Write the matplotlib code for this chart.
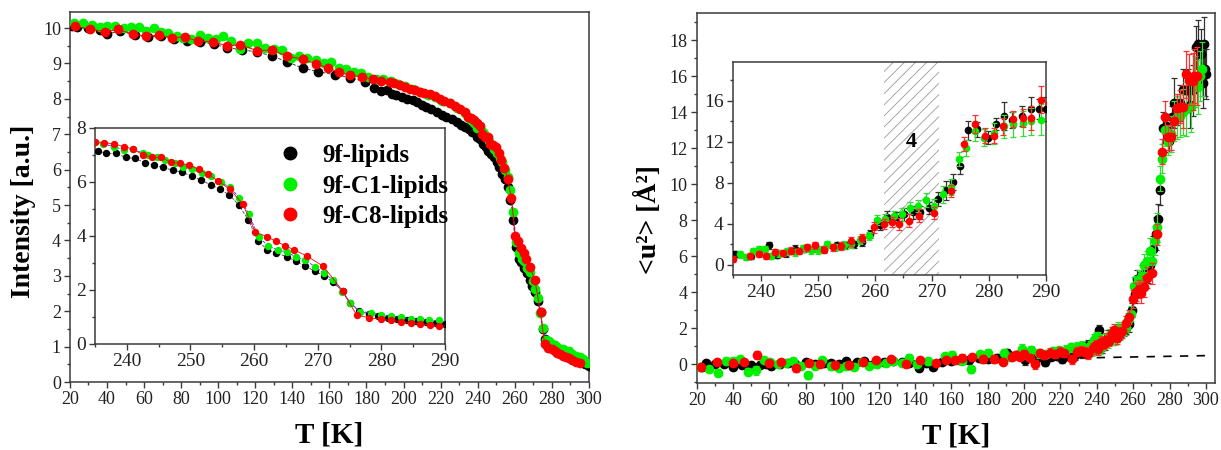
"""
Elastic intensity and mean square displacement <u^2> vs temperature
for 9f-lipids, 9f-C1-lipids and 9f-C8-lipids (two panels with insets).
"""

import matplotlib
matplotlib.use("Agg")
import matplotlib.pyplot as plt
from matplotlib.lines import Line2D
from matplotlib.ticker import MultipleLocator

plt.rcParams["font.family"] = ["Liberation Serif", "DejaVu Serif"]
plt.rcParams["hatch.linewidth"] = 0.6
plt.rcParams["hatch.color"] = "#9a9a9a"

# ── Colours ──────────────────────────────────────────────────────────────────
C_BLK = "#000000"
C_GRN = "#00f000"
C_RED = "#ff0000"
C_AX = "#3a3a3a"

# ── Left panel: elastic intensity [a.u.] ──────────────────────────────────────
I_BLK_T = [21, 24, 30, 36, 40, 47, 55, 62, 69, 76, 83, 90, 97.5, 105, 113, 121,
           129, 137, 146, 154, 163, 171, 179, 184, 188, 191, 194, 196, 199, 202,
           205, 207, 210, 212, 215, 218, 221, 223, 226, 229, 231, 233,
           235.4, 236.8, 238.3, 239.8, 241.3, 242.8, 244.3, 245.7, 247.2, 248.7,
           250.2, 251.7, 253.2, 254.6, 256.1, 257.6, 259.1, 260.6, 262.1, 263.5,
           265.1, 266.6, 268, 269.5, 271, 272.4, 273.9, 275.1, 276.5, 278, 279.5,
           281, 282.5, 284, 285.5, 287, 288.5, 290, 292, 294, 296, 298, 300]
I_BLK = [10.05, 10.02, 10.0, 9.95, 9.83, 9.92, 9.80, 9.74, 9.78, 9.70, 9.64, 9.62,
         9.54, 9.45, 9.38, 9.33, 9.21, 9.05, 8.86, 8.77, 8.68, 8.60, 8.49, 8.32,
         8.21, 8.24, 8.15, 8.10, 8.05, 8.01, 7.96, 7.91, 7.84, 7.78, 7.70, 7.63,
         7.55, 7.49, 7.42, 7.35, 7.27, 7.20,
         7.15, 7.06, 7.06, 6.91, 6.87, 6.72, 6.63, 6.54, 6.44, 6.36,
         6.22, 6.07, 5.89, 5.74, 5.52, 5.15, 4.59, 3.82, 3.48, 3.38,
         3.23, 3.07, 2.89, 2.70, 2.53, 2.28, 1.97, 1.50, 1.23, 1.10, 1.02,
         0.98, 0.94, 0.90, 0.86, 0.82, 0.78, 0.74, 0.68, 0.62, 0.57, 0.52, 0.45]

I_GRN_T = [22, 27, 32, 36, 40, 44.5, 49, 53, 57, 61, 65.3, 69, 73, 77.5, 81, 85.4,
           90, 94.5, 99, 102.5, 107, 112, 116, 121, 125.5, 130, 134.5, 139, 143.5,
           148, 152.6, 157, 161, 165, 169, 173, 177, 181, 185, 189, 193, 197, 201,
           205, 209, 213, 217, 221, 225, 229, 233,
           235, 236.3, 238, 239.5, 241, 242.6, 243.4, 244.7, 246, 247.6, 248.9,
           250.3, 251.8, 253.2, 254.8, 256.2, 257.7, 259.2, 260.7, 262.2, 263.7,
           265.1, 266.6, 268, 269.6, 271, 272.4, 273.8, 275.1, 276.6, 278.3, 279.9,
           281.5, 283, 284.6, 286, 287.4, 289, 291, 293, 295, 297, 299]
I_GRN = [10.15, 10.15, 10.08, 10.04, 10.05, 10.05, 10.0, 10.04, 10.02, 9.93, 10.01,
         9.90, 9.87, 9.77, 9.72, 9.68, 9.80, 9.73, 9.70, 9.77, 9.63, 9.40, 9.58,
         9.58, 9.45, 9.42, 9.38, 9.15, 9.20, 9.15, 9.10, 9.00, 9.05, 8.88, 8.85,
         8.75, 8.72, 8.62, 8.57, 8.55, 8.50, 8.42, 8.36, 8.27, 8.20, 8.12, 8.05,
         7.95, 7.87, 7.75, 7.60,
         7.49, 7.40, 7.31, 7.19, 7.22, 7.06, 7.00, 6.91, 6.81, 6.69, 6.57,
         6.48, 6.32, 6.22, 5.99, 5.80, 5.42, 4.81, 3.95, 3.64, 3.48,
         3.42, 3.21, 3.11, 2.86, 2.62, 2.37, 1.94, 1.53, 1.20, 1.16, 1.07,
         1.04, 0.99, 0.92, 0.92, 0.87, 0.87, 0.80, 0.74, 0.70, 0.64, 0.55]

I_RED_T = [22.5, 30.6, 38.7, 46, 54, 60.8, 68, 75, 82, 89, 97, 104.5, 112, 121, 129,
           137, 146, 153, 159, 165, 171, 177.7, 183.6, 188, 192.5, 195, 198, 201,
           203.4, 206, 208.8, 211, 214, 217, 219.6, 222, 225, 228, 230.4, 233,
           235, 236.4, 238, 239.5, 241, 242.5, 244, 245.4, 246.9, 248.4, 249.8,
           251.3, 252.8, 254.3, 256.2, 258.2, 260.2, 262, 263.4, 264.9, 266.3,
           268.3, 270.9, 273.9, 276.1, 278.1, 279.9, 281.5, 283, 284.6, 286.1,
           287.7, 289.1, 291, 293, 295]
I_RED = [10.06, 9.97, 9.90, 9.96, 9.83, 9.77, 9.80, 9.73, 9.75, 9.63, 9.62, 9.50,
         9.53, 9.36, 9.38, 9.21, 9.12, 8.98, 8.88, 8.75, 8.67, 8.62, 8.55, 8.51,
         8.49, 8.45, 8.39, 8.33, 8.29, 8.24, 8.19, 8.17, 8.15, 8.08, 8.01, 7.95,
         7.89, 7.80, 7.72, 7.62,
         7.49, 7.46, 7.41, 7.31, 7.22, 7.01, 6.91, 6.91, 6.73, 6.69, 6.63,
         6.47, 6.28, 6.04, 5.73, 5.19, 4.14, 3.98, 3.80, 3.64, 3.48,
         3.26, 2.87, 1.97, 1.07, 0.97, 0.92, 0.87, 0.83, 0.79, 0.74,
         0.71, 0.68, 0.63, 0.58, 0.55]

# ── Right panel: <u^2> [A^2] with errors ─────────────────────────────────────
U_BLK_T = [22.7, 25, 30, 35, 40, 45, 50, 54.8, 58, 61, 66, 70, 74, 80, 85, 90, 94,
           98, 102, 108, 112, 118, 123, 128, 133, 137, 142, 146, 150, 155, 160,
           165, 170, 175, 180, 185, 190.5, 193, 196, 200.6, 203, 206, 208, 211.6,
           215, 218, 220.8, 224, 228, 232,
           235.4, 238.3, 241.4, 242.8, 244.3, 245.9, 247.5, 249.4, 251, 253.3,
           254.8, 256.3, 257.8, 259.1, 260.9, 262.2, 263.7, 265.1, 266.6, 268,
           269.5, 271, 272.4, 273.8, 275, 276.3, 277.9, 279.8, 281.2, 282.7,
           284.1, 285.8, 287.4, 288.8, 290, 291, 293, 294.8, 295.8, 297.5,
           298.5, 299, 299.5, 300]
U_BLK = [-0.15, 0.05, 0.0, 0.0, -0.18, -0.05, -0.05, -0.06, 0.0, -0.1, 0.0, 0.05,
         0.0, 0.1, 0.0, 0.05, 0.05, 0.0, 0.15, 0.1, 0.15, 0.05, 0.1, 0.15, 0.1,
         0.05, -0.2, 0.05, -0.15, 0.1, 0.15, 0.2, 0.2, 0.35, 0.3, 0.35, 0.59, 0.45,
         0.5, 0.22, 0.5, 0.45, 0.4, 0.13, 0.4, 0.45, 0.31, 0.45, 0.5, 0.6,
         1.04, 0.88, 1.88, 0.94, 1.1, 1.53, 1.5, 1.63, 1.5, 1.88,
         1.9, 2.0, 2.2, 3.0, 3.9, 4.7, 4.6, 4.9, 5.1, 5.1,
         5.5, 6.4, 7.25, 8.07, 9.66, 13.1, 13.2, 12.4, 13.75, 14.5,
         14.1, 14.5, 15.2, 15.2, 15.2, 14.4, 15.2, 17.6, 17.8, 17.2,
         15.6, 17.8, 16.4, 16.1]
U_BLK_E = [0.15, 0.12, 0.12, 0.12, 0.15, 0.12, 0.12, 0.15, 0.12, 0.15, 0.12, 0.12,
           0.15, 0.12, 0.12, 0.15, 0.12, 0.12, 0.15, 0.12, 0.15, 0.12, 0.12, 0.15,
           0.12, 0.15, 0.2, 0.15, 0.2, 0.15, 0.15, 0.2, 0.2, 0.2, 0.2, 0.2, 0.25,
           0.2, 0.2, 0.25, 0.2, 0.2, 0.2, 0.25, 0.2, 0.2, 0.25, 0.2, 0.25, 0.25,
           0.3, 0.3, 0.3, 0.3, 0.3, 0.35, 0.3, 0.35, 0.3, 0.35,
           0.35, 0.35, 0.4, 0.4, 0.5, 0.5, 0.5, 0.6, 0.6, 0.6,
           0.6, 0.7, 0.9, 0.8, 0.8, 0.9, 0.7, 0.6, 0.6, 1.4,
           0.8, 1.0, 1.2, 1.0, 1.2, 1.3, 1.4, 1.2, 1.3, 1.4,
           1.4, 1.5, 1.5, 1.4]

U_GRN_T = [22, 27, 31.5, 36, 40, 44, 48, 52.5, 57, 60.5, 64.7, 69, 73, 77.5, 81, 85,
           89, 93.7, 98, 102, 106.5, 111, 115, 119, 124, 128, 133, 137, 141, 147,
           156.5, 160.3, 166, 170.6, 175.7, 180, 188.7, 192, 199, 203.6, 208, 212,
           216, 219, 223, 226, 229, 232,
           236.2, 237.4, 238.5, 239.6, 240.6, 241.8, 243.2, 244.5, 246, 247.4,
           248.7, 250, 251.6, 253, 254.5, 255.8, 257.4, 258.9, 260.3, 261.8,
           263.4, 264.7, 266.1, 267.5, 269, 270.4, 271.9, 273.3, 274.7, 276,
           277.5, 279.2, 281, 282.7, 284.3, 286, 287.5, 289.2, 292, 294,
           295.5, 297, 298]
U_GRN = [-0.15, -0.28, -0.48, 0.18, 0.18, 0.27, -0.42, -0.35, 0.2, 0.12, 0.0, 0.04,
         0.18, -0.1, -0.63, -0.1, 0.22, -0.12, -0.2, -0.1, -0.17, 0.12, -0.1, 0.0,
         0.08, 0.16, 0.04, 0.33, 0.03, 0.16, 0.43, 0.5, 0.17, -0.3, 0.54, 0.63,
         0.63, 0.4, 0.85, 0.78, 0.6, 0.57, 0.7, 0.76, 0.8, 0.93, 0.97, 1.0,
         1.0, 0.75, 1.35, 1.5, 1.5, 0.85, 1.1, 1.33, 1.2, 1.6,
         1.43, 1.43, 2.0, 1.7, 1.95, 2.0, 2.45, 2.8, 4.36, 4.42,
         4.75, 4.9, 5.5, 5.7, 6.3, 5.7, 6.85, 7.6, 10.3, 11.4,
         13.0, 12.4, 12.8, 13.5, 13.7, 13.8, 14.0, 14.15, 14.3, 15.7,
         15.4, 16.0, 16.4]
U_GRN_E = [0.15, 0.15, 0.2, 0.15, 0.15, 0.15, 0.2, 0.25, 0.15, 0.15, 0.15, 0.15,
           0.15, 0.15, 0.2, 0.15, 0.15, 0.2, 0.15, 0.15, 0.15, 0.15, 0.15, 0.15,
           0.15, 0.15, 0.15, 0.25, 0.15, 0.2, 0.2, 0.2, 0.15, 0.2, 0.2, 0.2,
           0.2, 0.2, 0.25, 0.2, 0.25, 0.2, 0.25, 0.2, 0.25, 0.25, 0.25, 0.3,
           0.3, 0.3, 0.3, 0.3, 0.3, 0.3, 0.3, 0.35, 0.3, 0.35,
           0.35, 0.35, 0.35, 0.35, 0.4, 0.4, 0.4, 0.4, 0.5, 0.5,
           0.5, 0.6, 0.6, 0.6, 0.7, 0.7, 0.8, 0.8, 0.7, 0.8,
           0.9, 0.8, 1.0, 1.1, 1.2, 1.2, 1.3, 1.5, 1.4, 1.4,
           1.5, 1.4, 1.5]

U_RED_T = [22.2, 31, 40, 46, 53, 60, 66.6, 74.4, 81.5, 88, 96, 104, 111.6, 118.6,
           126.6, 135, 143, 151.4, 157, 162, 166, 171.2, 177.3, 183.7, 188.3,
           193.2, 195.5, 197.8, 200, 203, 206, 208.8, 211, 214.3, 217, 219.8, 222,
           226.2, 229, 231.5, 233.5,
           235.1, 238, 239.6, 240.8, 242.5, 243.8, 245.2, 246.6, 248.1, 249.5,
           251, 252.6, 254, 255.8, 257.8, 259.8, 261.5, 263, 264.3, 265.9,
           267.7, 270.4, 273.3, 275.6, 277.5, 279.4, 280.9, 282.5, 284.3, 286,
           287.5, 289.1, 290.5, 292.7, 293.6, 295]
U_RED = [-0.15, 0.13, 0.05, 0.13, 0.5, 0.05, 0.13, -0.24, 0.07, 0.0, -0.05, -0.05,
         0.1, 0.2, 0.27, 0.0, 0.22, 0.04, 0.2, 0.22, 0.35, 0.37, 0.28, 0.28, 0.13,
         0.41, 0.5, 0.4, 0.55, 0.35, 0.0, 0.6, 0.5, 0.63, 0.55, 0.69, 0.6, 0.26,
         0.69, 0.75, 0.69,
         0.58, 0.88, 1.05, 0.82, 1.24, 1.14, 1.36, 1.3, 1.69, 1.88,
         1.46, 1.72, 1.85, 2.27, 2.6, 3.64, 4.0, 4.16, 3.97, 4.3,
         4.8, 5.04, 7.2, 11.8, 13.7, 12.6, 12.6, 13.5, 14.2, 14.3,
         14.3, 16.1, 15.8, 15.7, 16.0, 16.0]
U_RED_E = [0.15, 0.15, 0.15, 0.15, 0.2, 0.15, 0.15, 0.2, 0.15, 0.15, 0.15, 0.15,
           0.15, 0.15, 0.15, 0.15, 0.2, 0.15, 0.15, 0.2, 0.2, 0.2, 0.2, 0.2, 0.2,
           0.2, 0.2, 0.2, 0.25, 0.2, 0.25, 0.2, 0.2, 0.25, 0.2, 0.25, 0.2, 0.25,
           0.25, 0.25, 0.25,
           0.3, 0.3, 0.3, 0.3, 0.3, 0.3, 0.35, 0.3, 0.35, 0.35,
           0.35, 0.35, 0.4, 0.4, 0.4, 0.5, 0.5, 0.5, 0.6, 0.6,
           0.6, 0.6, 0.6, 0.7, 0.9, 0.7, 0.7, 0.8, 0.8, 0.9,
           1.2, 1.3, 1.4, 1.6, 1.5, 1.6]

# harmonic baseline (dashed) in the right panel
BASE_T = [20, 300]
BASE_U = [-0.05, 0.47]

# transition region "4" in the right inset
HATCH_T = [261.5, 271.3]

LEGEND = ["9f-lipids", "9f-C1-lipids", "9f-C8-lipids"]


# ── Shared style ─────────────────────────────────────────────────────────────

def style(ax, xmaj, xmin, ymaj, ymin, size=13):
    for sp in ax.spines.values():
        sp.set_color(C_AX)
        sp.set_linewidth(1.1)
    ax.xaxis.set_major_locator(MultipleLocator(xmaj))
    ax.xaxis.set_minor_locator(MultipleLocator(xmin))
    ax.yaxis.set_major_locator(MultipleLocator(ymaj))
    ax.yaxis.set_minor_locator(MultipleLocator(ymin))
    ax.tick_params(which="both", direction="out", top=False, right=False,
                   color=C_AX, width=1, labelsize=size, labelcolor="#222222")
    ax.tick_params(which="major", length=4.5, pad=2)
    ax.tick_params(which="minor", length=2.5)


def intensity_series(ax, ms, lw):
    ax.plot(I_BLK_T, I_BLK, ls="--", color="#444444", lw=lw, marker="o",
            ms=ms, mfc=C_BLK, mec=C_BLK, zorder=3)
    ax.plot(I_GRN_T, I_GRN, ls="--", color="#3030ff", lw=lw, marker="o",
            ms=ms, mfc=C_GRN, mec=C_GRN, zorder=4)
    ax.plot(I_RED_T, I_RED, ls="-", color=C_RED, lw=lw, marker="o",
            ms=ms, mfc=C_RED, mec=C_RED, zorder=5)


def msd_series(ax, ms, cap):
    kw = dict(fmt="o", ms=ms, elinewidth=0.9, capsize=cap, capthick=0.9)
    ax.errorbar(U_BLK_T, U_BLK, yerr=U_BLK_E, color=C_BLK, ecolor="#333333",
                zorder=3, **kw)
    ax.errorbar(U_GRN_T, U_GRN, yerr=U_GRN_E, color=C_GRN, ecolor="#33dd33",
                zorder=4, **kw)
    ax.errorbar(U_RED_T, U_RED, yerr=U_RED_E, color=C_RED, ecolor="#ff3030",
                zorder=5, **kw)


fig = plt.figure(figsize=(12.21, 4.5), dpi=100)

# ── Left: intensity ──────────────────────────────────────────────────────────
ax1 = fig.add_axes([0.0573, 0.151, 0.425, 0.822])
intensity_series(ax1, ms=6, lw=0.7)
ax1.set_xlim(20, 300)
ax1.set_ylim(0, 10.45)
style(ax1, 20, 10, 1, 0.5)
ax1.set_xlabel("T [K]", fontsize=21, fontweight="bold", labelpad=10)
ax1.set_ylabel("Intensity [a.u.]", fontsize=20, fontweight="bold")
ax1.yaxis.set_label_coords(-0.066, 0.462)

ins1 = fig.add_axes([0.0778, 0.2356, 0.2867, 0.48])
intensity_series(ins1, ms=4.3, lw=0.6)
ins1.set_xlim(235, 290)
ins1.set_ylim(0, 8)
style(ins1, 10, 5, 2, 1, size=14)

handles = [Line2D([], [], ls="none", marker="o", ms=9, color=c)
           for c in (C_BLK, C_GRN, C_RED)]
ins1.legend(handles, LEGEND, loc="upper left", bbox_to_anchor=(0.42, 1.03),
            frameon=False, handletextpad=0.3, labelspacing=0.3,
            prop={"weight": "bold", "size": 18})

# ── Right: <u^2> ─────────────────────────────────────────────────────────────
ax2 = fig.add_axes([0.5706, 0.1489, 0.4245, 0.822])
ax2.plot(BASE_T, BASE_U, ls=(0, (5, 5)), color="black", lw=1.2, zorder=2)
msd_series(ax2, ms=6, cap=2.5)
ax2.set_xlim(20, 305)
ax2.set_ylim(-1.05, 19.5)
style(ax2, 20, 10, 2, 1)
ax2.set_xlabel("T [K]", fontsize=21, fontweight="bold", labelpad=10)
ax2.set_ylabel("<u²> [Å²]", fontsize=20, fontweight="bold")
ax2.yaxis.set_label_coords(-0.067, 0.443)

ins2 = fig.add_axes([0.6001, 0.3889, 0.2563, 0.474])
ins2.axvspan(HATCH_T[0], HATCH_T[1], facecolor="none", edgecolor="#9a9a9a",
             hatch="///", lw=0, zorder=1)
msd_series(ins2, ms=4.5, cap=2)
ins2.text(sum(HATCH_T) / 2, 12, "4", ha="center", va="center",
          fontsize=16, fontweight="bold")
ins2.set_xlim(235, 290)
ins2.set_ylim(-1, 19.8)
style(ins2, 10, 5, 4, 2, size=14)

fig.savefig("out.png", dpi=100)
plt.close(fig)
